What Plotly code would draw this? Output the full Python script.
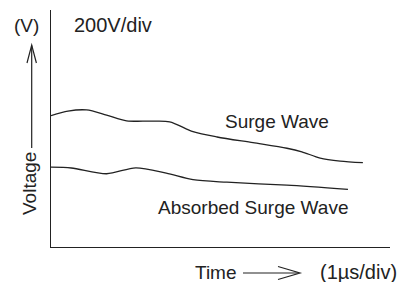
import plotly.graph_objects as go

# Time in divisions (1 µs/div), voltage in V (200 V/div)
surge_t = [0, 0.5, 1.05, 1.64, 2.23, 2.92, 3.5, 4.19, 4.9, 5.96, 6.96, 7.4, 7.94, 8.53, 9.2]
surge_v = [665, 688, 694, 668, 639, 637, 634, 584, 557, 528, 500, 482, 450, 435, 427]

absorbed_t = [0, 0.6, 1.64, 2.5, 3.4, 4.19, 5.19, 6.96, 8.76]
absorbed_v = [404, 400, 371, 401, 374, 341, 328, 313, 292]

labels = {
    "yunit": "(V)",
    "yscale": "200V/div",
    "surge": "Surge Wave",
    "absorbed": "Absorbed Surge Wave",
    "ylabel": "Voltage",
    "xlabel": "Time",
    "xscale": "(1µs/div)",
}

INK = "#222222"
FONT = "Arial, Liberation Sans, Helvetica, sans-serif"

fig = go.Figure()
fig.add_trace(go.Scatter(x=surge_t, y=surge_v, mode="lines", line=dict(color=INK, width=1.3, shape="spline", smoothing=0.8), showlegend=False, hoverinfo="skip"))
fig.add_trace(go.Scatter(x=absorbed_t, y=absorbed_v, mode="lines", line=dict(color=INK, width=1.3, shape="spline", smoothing=0.8), showlegend=False, hoverinfo="skip"))

L, R, T, B = 51, 10, 10, 35
W, H = 400, 282
pw, ph = W - L - R, H - T - B

def px(x):
    return (x - L) / pw

def py(y):
    return (H - B - y) / ph

def ann(text, x, y, xanchor="center", size=19, angle=0):
    fig.add_annotation(text=text, x=px(x), y=py(y), xref="paper", yref="paper",
                       xanchor=xanchor, yanchor="middle", showarrow=False, textangle=angle,
                       font=dict(family=FONT, size=size, color=INK))

ann(labels["yunit"], 26, 26)
ann(labels["yscale"], 72, 25, xanchor="left", size=20)
ann(labels["surge"], 277, 121)
ann(labels["absorbed"], 253, 207)
ann(labels["ylabel"], 29, 184, angle=-90)
ann(labels["xlabel"], 216, 272)
ann(labels["xscale"], 399, 272, xanchor="right", size=20)

line = dict(color=INK, width=1.2)
# left vertical arrow
fig.add_shape(type="line", xref="paper", yref="paper", x0=px(31.7), x1=px(31.7), y0=py(148), y1=py(45.5), line=line)
fig.add_shape(type="path", xref="paper", yref="paper",
              path=f"M {px(27)} {py(63)} L {px(31.7)} {py(45)} L {px(36.4)} {py(63)}", line=line)
# bottom horizontal arrow
fig.add_shape(type="line", xref="paper", yref="paper", x0=px(243), x1=px(299), y0=py(273), y1=py(273), line=line)
fig.add_shape(type="path", xref="paper", yref="paper",
              path=f"M {px(278)} {py(266.5)} L {px(300)} {py(273)} L {px(278)} {py(279.5)}", line=line)

fig.update_xaxes(range=[0, 10], showline=True, linecolor=INK, linewidth=1.3, showgrid=False,
                 zeroline=False, showticklabels=False, ticks="", fixedrange=True)
fig.update_yaxes(range=[0, 1200], showline=True, linecolor=INK, linewidth=1.3, showgrid=False,
                 zeroline=False, showticklabels=False, ticks="", fixedrange=True)

fig.update_layout(width=W, height=H, margin=dict(l=L, r=R, t=T, b=B),
                  paper_bgcolor="white", plot_bgcolor="white", showlegend=False)

fig.write_html("out.html", config={"displayModeBar": False},
               post_script="document.body.style.margin='0';document.body.style.overflow='hidden';")
